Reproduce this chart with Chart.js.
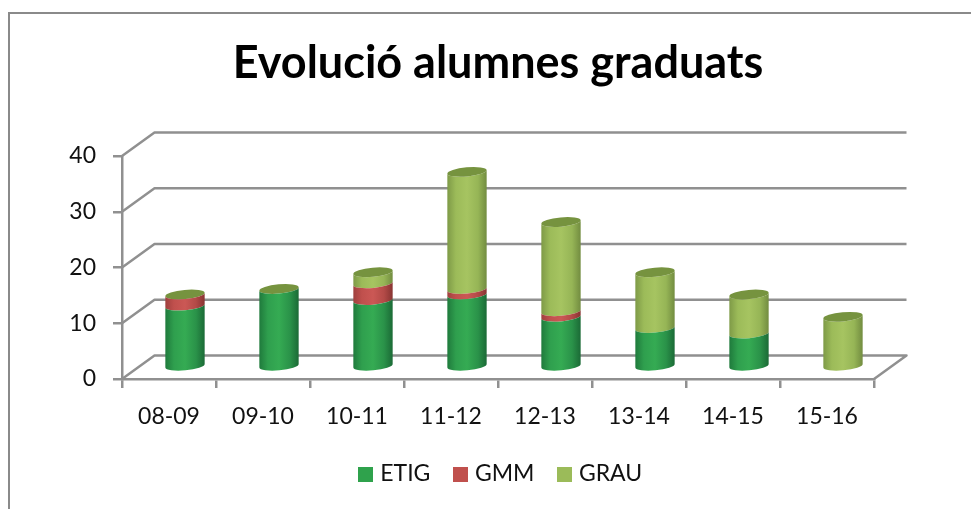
<!DOCTYPE html>
<html><head><meta charset="utf-8">
<style>html,body{margin:0;padding:0;background:#fff}canvas{display:block}</style>
<script src="https://cdn.jsdelivr.net/npm/chart.js@4"></script></head>
<body><canvas id="c" width="971" height="509"></canvas>
<script>
const categories=["08-09","09-10","10-11","11-12","12-13","13-14","14-15","15-16"];
const ETIG=[11,14,12,13,9,7,6,0];
const GMM=[2,0,3,1,1,0,0,0];
const GRAU=[0,0,2,21,16,10,7,9];
const yTicks=[0,10,20,30,40];
const FONT="Lato";
const DX=16,DY=-12,RY=4.6,ROT=-0.09,BACKX=32.5,BACKY=-23.5;
const GRID="#909090";
const shades={
 "#2fa24c":["#1f7a3c","#2f9f4e","#35ab53","#2a9249","#1b6a36"],
 "#c0504d":["#9f403e","#c0504d","#cb5855","#b34a47","#873432"],
 "#9bbb59":["#7e9a47","#9cbb59","#a6c461","#96b556","#728c40"]
};
const CAP="#76933f";
Chart.BarElement.prototype.draw=function(ctx){
  const {x,y,base,width}=this.getProps(['x','y','base','width'],false);
  const rx=width/2,cx=x+DX,top=y+DY,bot=base+DY;
  const color=this.options.backgroundColor;
  const c=shades[color];
  if(Math.abs(bot-top)>0.5){
    const g=ctx.createLinearGradient(cx-rx,0,cx+rx,0);
    [0,0.22,0.5,0.78,1].forEach((p,i)=>g.addColorStop(p,c[i]));
    ctx.save();
    ctx.fillStyle=g;
    ctx.beginPath();
    ctx.ellipse(cx,top,rx,RY,ROT,Math.PI,0,true);
    ctx.ellipse(cx,bot,rx,RY,ROT,0,Math.PI,false);
    ctx.closePath();
    ctx.fill();
    ctx.restore();
  }
  if(color==="#9bbb59"){
    ctx.save();
    ctx.fillStyle=CAP;
    ctx.beginPath();
    ctx.ellipse(cx,top,rx,RY,ROT,0,Math.PI*2);
    ctx.fill();
    ctx.restore();
  }
};
function swatch(color){
  const s=document.createElement('canvas');s.width=15;s.height=15;
  const k=s.getContext('2d');k.fillStyle=color;k.fillRect(0,0,15,15);return s;
}
const frame={id:'frame',
 afterLayout(chart){chart.legend.left+=4.5;chart.legend.right+=4.5;},
 beforeDraw(chart){
  const ctx=chart.ctx;
  ctx.save();ctx.strokeStyle="#8a8a8a";ctx.lineWidth=2;
  ctx.beginPath();ctx.moveTo(9,509);ctx.lineTo(9,13);ctx.lineTo(971,13);ctx.stroke();ctx.restore();
 },
 beforeDatasetsDraw(chart){
  const ctx=chart.ctx,{left,right}=chart.chartArea,sy=chart.scales.y;
  ctx.save();ctx.strokeStyle=GRID;ctx.lineWidth=2.5;ctx.lineJoin="round";
  yTicks.forEach(v=>{
    const p=sy.getPixelForValue(v);
    ctx.beginPath();ctx.moveTo(left,p);ctx.lineTo(left+BACKX,p+BACKY);ctx.lineTo(right+BACKX,p+BACKY);
    if(v===0){ctx.lineTo(right,p);}
    ctx.stroke();
  });
  ctx.restore();
 }};
new Chart(document.getElementById('c'),{
 type:'bar',
 data:{labels:categories,datasets:[
  {label:"ETIG",data:ETIG,backgroundColor:"#2fa24c",clip:false},
  {label:"GMM",data:GMM,backgroundColor:"#c0504d",clip:false},
  {label:"GRAU",data:GRAU,backgroundColor:"#9bbb59",clip:false}]},
 plugins:[frame],
 options:{responsive:false,animation:false,events:[],
  devicePixelRatio:1,
  barPercentage:0.42,categoryPercentage:1,
  layout:{padding:{left:0,right:97,top:22,bottom:13.5}},
  scales:{
   x:{stacked:true,
      grid:{drawOnChartArea:false,tickLength:9,color:GRID,lineWidth:2.5},
      border:{color:GRID,width:2.5},
      ticks:{color:"#111",font:{family:FONT,size:23},padding:14.5,maxRotation:0,autoSkip:false},
      afterFit(s){s.height=56.5;}},
   y:{stacked:true,min:0,max:40,
      afterBuildTicks(s){s.ticks=yTicks.map(v=>({value:v}));},
      grid:{drawOnChartArea:false,tickLength:9,color:GRID,lineWidth:2.5},
      border:{color:GRID,width:2.5},
      ticks:{color:"#111",font:{family:FONT,size:23},padding:17},
      afterFit(s){s.width=122;}}
  },
  plugins:{
   tooltip:{enabled:false},
   title:{display:true,text:"Evolució alumnes graduats",fullSize:false,color:"#000",
     font:{family:FONT,size:45,weight:"bold"},padding:{top:14,bottom:66}},
   legend:{position:'bottom',fullSize:false,
     labels:{color:"#111",font:{family:FONT,size:23},boxHeight:15,padding:27,
       usePointStyle:true,pointStyleWidth:6,
       generateLabels(chart){
         return Chart.defaults.plugins.legend.labels.generateLabels(chart)
           .map(l=>({...l,pointStyle:swatch(l.fillStyle)}));
       }}}
  }
 }
});
</script></body></html>
